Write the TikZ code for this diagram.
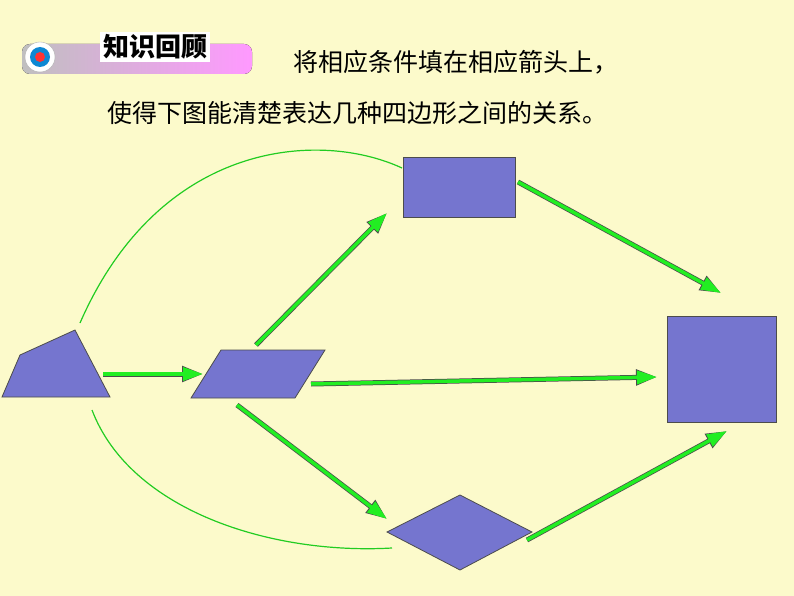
\documentclass[tikz,border=0pt]{standalone}
\usepackage{fontspec}
\newfontfamily\cjk{Noto Sans CJK SC}
\usetikzlibrary{arrows.meta}
\definecolor{bg}{HTML}{FCFACB}
\definecolor{shapefill}{HTML}{7575CF}
\definecolor{arrowgreen}{HTML}{22EE22}
\definecolor{curvegreen}{HTML}{22CC22}
\tikzset{
  quad/.style={fill=shapefill,draw=black!70,line width=0.8pt},
  fatarrow/.style={arrowgreen,line width=3.5pt,-{Triangle[length=20pt,width=13pt]},
    preaction={draw=black!70,line width=5pt,-{Triangle[length=21pt,width=15pt]}}},
  thincurve/.style={curvegreen,line width=1.2pt}
}
\begin{document}
\begin{tikzpicture}[x=1pt,y=-1pt]
\fill[bg] (0,0) rectangle (794,596);
\useasboundingbox (0,0) rectangle (794,596);
% header badge
\fill[rounded corners=8pt,left color=black!25,right color=magenta!40] (22,44) rectangle (252,74);
\fill[white,draw=black!30] (40,57) circle (15);
\fill[cyan!70!blue] (40,57) circle (10);
\fill[red!80] (40,57) circle (5);
\node[fill=white,inner sep=3pt,font=\cjk\bfseries\fontsize{26}{28}\selectfont] (badge) at (155,47) {知识回顾};
% title
\node[font=\cjk\fontsize{25}{28}\selectfont,anchor=west] (line1) at (290,62) {将相应条件填在相应箭头上，};
\node[font=\cjk\fontsize{25}{28}\selectfont,anchor=west] (line2) at (104,113) {使得下图能清楚表达几种四边形之间的关系。};
% shapes
\draw[quad] (2,397) -- (20,355) -- (75,330) -- (110,397) -- cycle;
\draw[quad] (191,398) -- (221,350) -- (325,350) -- (295,398) -- cycle;
\draw[quad] (403,157) rectangle (515,217);
\draw[quad] (667,316) rectangle (776,422);
\draw[quad] (387,532) -- (460,495) -- (532,532) -- (460,570) -- cycle;
% arrow ends
\coordinate (a1) at (103,374); \coordinate (b1) at (203,374);
\coordinate (a2) at (256,345); \coordinate (b2) at (387,213);
\coordinate (a3) at (311,384); \coordinate (b3) at (657,377);
\coordinate (a4) at (237,405); \coordinate (b4) at (387,519);
\coordinate (a5) at (518,182); \coordinate (b5) at (721,293);
\coordinate (a6) at (527,540); \coordinate (b6) at (727,431);
\foreach \i in {1,...,6}
  \draw[fatarrow] (a\i) -- (b\i);
% curves
\coordinate (c1) at (80,323); \coordinate (d1) at (402,168);
\coordinate (c2) at (92,410); \coordinate (d2) at (392,548);
\draw[thincurve] (c1) .. controls (160,140) and (320,130) .. (d1);
\draw[thincurve] (c2) .. controls (130,510) and (270,555) .. (d2);
\end{tikzpicture}
\end{document}
